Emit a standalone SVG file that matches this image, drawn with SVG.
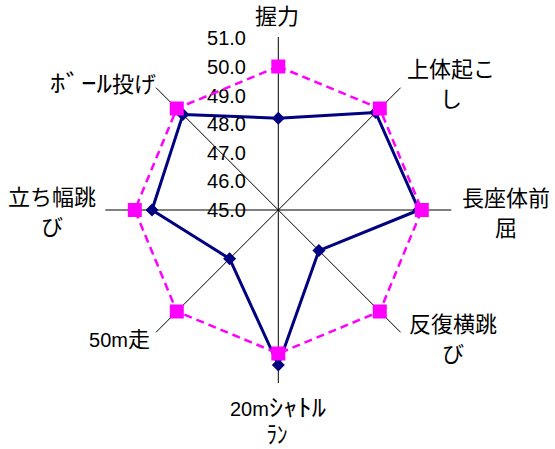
<svg xmlns="http://www.w3.org/2000/svg" xmlns:xlink="http://www.w3.org/1999/xlink" width="555" height="449" viewBox="0 0 555 449">
<style>
.axis{stroke:#000;stroke-width:1;fill:none}
.tick{font-family:"Liberation Sans",Arial,sans-serif;font-size:20px;fill:#000;text-anchor:end}
.lbl{font-family:"Noto Sans CJK JP","Liberation Sans",sans-serif;font-size:22px;fill:#000;text-anchor:middle}
.st{text-anchor:start}
.lat{font-family:"Liberation Sans",Arial,sans-serif;font-size:20px}
.hk{font-size:24px}
.blue{stroke:#000080;stroke-width:3;fill:none;stroke-linejoin:round}
.pink{stroke:#FF00FF;stroke-width:2.5;fill:none;stroke-dasharray:8,5}
.dia{fill:#000080}
.sq{fill:#FF00FF}
</style>
<defs>
<path id="dia" d="M0,-6.5L6.5,0L0,6.5L-6.5,0Z"/>
<rect id="sq" x="-7" y="-7" width="14" height="14"/>
</defs>
<rect width="555" height="449" fill="#fff"/>
<g id="axes">
<line class="axis" x1="278.3" y1="210" x2="278.3" y2="37"/>
<line class="axis" x1="278.3" y1="210" x2="400.6" y2="87.7"/>
<line class="axis" x1="278.3" y1="210" x2="451.3" y2="210"/>
<line class="axis" x1="278.3" y1="210" x2="400.6" y2="332.3"/>
<line class="axis" x1="278.3" y1="210" x2="278.3" y2="383"/>
<line class="axis" x1="278.3" y1="210" x2="156" y2="332.3"/>
<line class="axis" x1="278.3" y1="210" x2="105.3" y2="210"/>
<line class="axis" x1="278.3" y1="210" x2="156" y2="87.7"/>
</g>
<g id="ticks">
<text class="tick" x="246" y="217">45.0</text>
<text class="tick" x="246" y="188.4">46.0</text>
<text class="tick" x="246" y="159.8">47.0</text>
<text class="tick" x="246" y="131.2">48.0</text>
<text class="tick" x="246" y="102.6">49.0</text>
<text class="tick" x="246" y="74">50.0</text>
<text class="tick" x="246" y="45.4">51.0</text>
</g>
<g id="connectors">
<polygon class="blue" points="278.3,118.2 375.7,112.6 418.9,210 318.9,250.6 278.3,365 229.6,258.7 152,210 182.9,114.6"/>
<polygon class="pink" points="278.3,66.5 379.8,108.5 421.8,210 379.8,311.5 278.3,353.5 176.8,311.5 134.8,210 176.8,108.5"/>
</g>
<g id="series-blue" class="dia">
<use xlink:href="#dia" x="278.3" y="118.2"/>
<use xlink:href="#dia" x="375.7" y="112.6"/>
<use xlink:href="#dia" x="418.9" y="210"/>
<use xlink:href="#dia" x="318.9" y="250.6"/>
<use xlink:href="#dia" x="278.3" y="365"/>
<use xlink:href="#dia" x="229.6" y="258.7"/>
<use xlink:href="#dia" x="152" y="210"/>
<use xlink:href="#dia" x="182.9" y="114.6"/>
</g>
<g id="series-pink" class="sq">
<use xlink:href="#sq" x="278.3" y="66.5"/>
<use xlink:href="#sq" x="379.8" y="108.5"/>
<use xlink:href="#sq" x="421.8" y="210"/>
<use xlink:href="#sq" x="379.8" y="311.5"/>
<use xlink:href="#sq" x="278.3" y="353.5"/>
<use xlink:href="#sq" x="176.8" y="311.5"/>
<use xlink:href="#sq" x="134.8" y="210"/>
<use xlink:href="#sq" x="176.8" y="108.5"/>
</g>
<g id="node-grip"><text class="lbl" x="277" y="24">握力</text></g>
<g id="node-situp"><text class="lbl" x="451" y="77">上体起こ</text><text class="lbl" x="451" y="107">し</text></g>
<g id="node-sitreach"><text class="lbl" x="506" y="205.5">長座体前</text><text class="lbl" x="506" y="235.5">屈</text></g>
<g id="node-sidestep"><text class="lbl" x="453" y="332">反復横跳</text><text class="lbl" x="453" y="361.5">び</text></g>
<g id="node-shuttle"><text class="lbl st" x="230" y="416"><tspan class="lat">20m</tspan><tspan class="hk" textLength="57" lengthAdjust="spacingAndGlyphs">ｼｬﾄﾙ</tspan></text><text class="lbl st" x="266.5" y="443"><tspan class="hk" textLength="21" lengthAdjust="spacingAndGlyphs">ﾗﾝ</tspan></text></g>
<g id="node-dash"><text class="lbl" x="150" y="347" style="text-anchor:end"><tspan class="lat" font-size="21">50m</tspan>走</text></g>
<g id="node-jump"><text class="lbl" x="52" y="204.5">立ち幅跳</text><text class="lbl" x="52" y="234.5">び</text></g>
<g id="node-throw"><text class="lbl st" x="50" y="92"><tspan class="hk" textLength="62" lengthAdjust="spacingAndGlyphs">ﾎﾞｰﾙ</tspan>投げ</text></g>
</svg>
